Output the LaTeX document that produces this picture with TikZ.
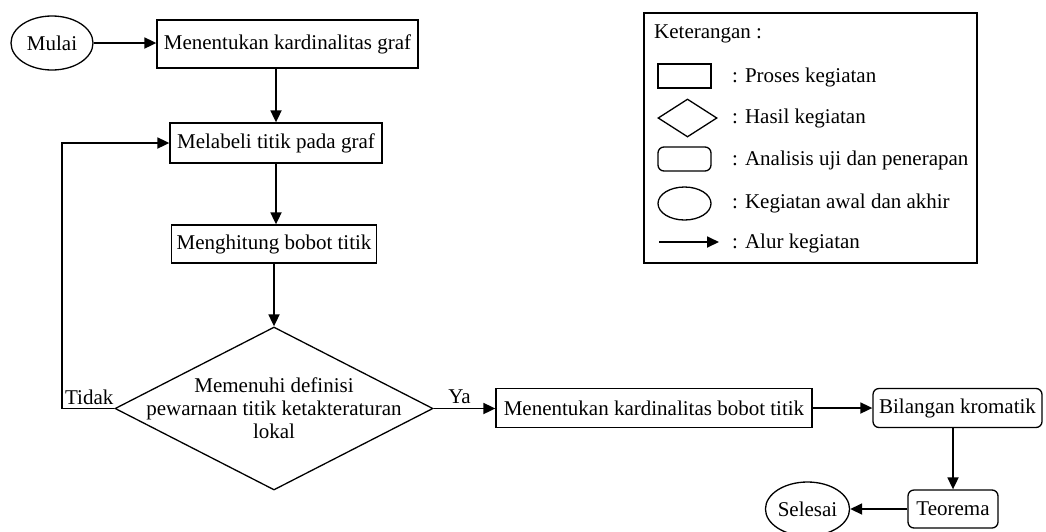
\documentclass[tikz,border=0pt]{standalone}
\usepackage{fontspec}
\setmainfont{Liberation Serif}
\usetikzlibrary{arrows.meta,positioning,calc,shapes.geometric}

\begin{document}
\begin{tikzpicture}[x=1pt, y=-1pt, >={Triangle[length=12pt,width=11pt]},
 font=\fontsize{21}{23}\selectfont,
 proses/.style={draw,line width=1.3pt,inner sep=0pt,minimum width=#1},
 proses/.default=53pt,
 analisis/.style={proses=#1,rounded corners=6pt},
 analisis/.default=53pt,
 awal/.style={draw,ellipse,line width=1.3pt,inner sep=0pt},
 hasil/.style={draw,diamond,line width=1.3pt,inner sep=0pt},
 alur/.style={->,line width=1.8pt},
 teks/.style={inner sep=0pt,anchor=west}]
\useasboundingbox (0,0) rectangle (1046,531);
% alur utama
\node[awal,minimum width=82pt,minimum height=54pt] (mulai) at (52,43) {Mulai};
\node[proses=261pt,minimum height=48pt] (kard) at (287.5,44) {Menentukan kardinalitas graf};
\node[proses=212pt,minimum height=40pt] (label) at (276,143) {Melabeli titik pada graf};
\node[proses=205pt,minimum height=38pt] (bobot) at (274,244) {Menghitung bobot titik};
\node[hasil,minimum width=318pt,minimum height=163pt,
 label={[align=center,inner sep=0pt]center:Memenuhi definisi\\pewarnaan titik ketakteraturan\\lokal}] (syarat) at (274,408.5) {};
\node[proses=316pt,minimum height=39pt] (kbobot) at (654,408) {Menentukan kardinalitas bobot titik};
\node[analisis=169pt,minimum height=39pt] (kromatik) at (957.5,408) {Bilangan kromatik};
\node[analisis=90pt,minimum height=38pt] (teorema) at (953,509) {Teorema};
\node[awal,minimum width=79pt,minimum height=54pt] (selesai) at (807.5,509) {Selesai};
\coordinate (balik) at (62,408.5);
\draw[alur] (mulai.east) -- (mulai.east -| kard.west);
\draw[alur] (label.north |- kard.south) -- (label.north);
\draw[alur] (label.south) -- (label.south |- bobot.north);
\draw[alur] (bobot.south) -- (syarat.north);
\draw[alur] (syarat.west) -- node[above,inner sep=3pt,pos=0.48]{Tidak} (balik) |- (label.west);
\draw[alur] (syarat.east) -- node[above,inner sep=4pt,pos=0.42]{Ya} (syarat.east -| kbobot.west);
\draw[alur] (kbobot.east) -- (kromatik.west);
\draw[alur] (teorema.north |- kromatik.south) -- (teorema.north);
\draw[alur] (teorema.west) -- (selesai.east);
% keterangan
\node[draw,line width=1.3pt,minimum width=333pt,minimum height=250pt] (ket) at (810.5,138) {};
\node[teks] (ketjudul) at (654,34) {Keterangan :};
\node[proses,minimum height=24pt] (lproses) at (684.5,76) {};
\node[hasil,minimum width=59pt,minimum height=38pt] (lhasil) at (687.5,118) {};
\node[analisis,minimum height=24pt] (lanalisis) at (684.5,159) {};
\node[awal,minimum width=53pt,minimum height=33pt] (lawal) at (684.5,203.5) {};
\coordinate (lalur1) at (659,242);
\coordinate (lalur2) at (719,242);
\draw[alur] (lalur1) -- (lalur2);
\node[teks] at (732,77) {: Proses kegiatan};
\node[teks] at (732,118) {: Hasil kegiatan};
\node[teks] at (732,160) {: Analisis uji dan penerapan};
\node[teks] at (732,203) {: Kegiatan awal dan akhir};
\node[teks] at (732,243) {: Alur kegiatan};
\end{tikzpicture}
\end{document}
